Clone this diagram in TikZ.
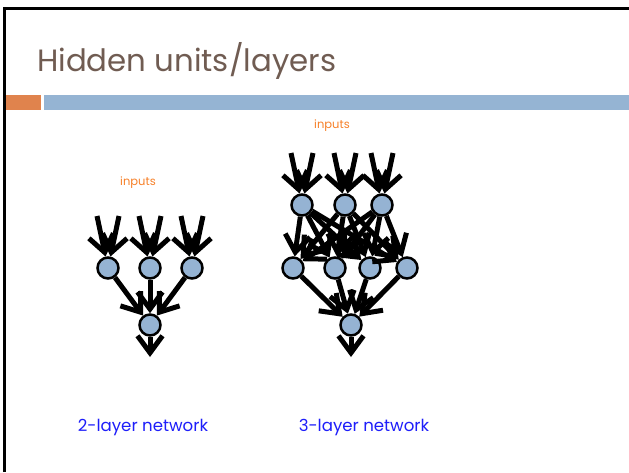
\documentclass[tikz,border=0pt]{standalone}
\usepackage{fontspec}
\setmainfont{Poppins}
\usetikzlibrary{arrows.meta,calc}
\definecolor{titlebrown}{RGB}{112,92,82}
\definecolor{barorange}{RGB}{224,131,77}
\definecolor{barblue}{RGB}{149,180,211}
\definecolor{unitblue}{RGB}{149,179,211}
\definecolor{inorange}{RGB}{247,128,40}
\definecolor{capblue}{RGB}{30,30,250}
\tikzset{
  unit/.style={circle, draw=black, line width=2.5pt, fill=unitblue, minimum size=21pt, inner sep=0pt},
  link/.style={line width=5pt, -{Straight Barb[length=17pt,width=25pt]}},
  inlabel/.style={text=inorange, font=\fontsize{11.5pt}{13pt}\selectfont},
  caption/.style={text=capblue, font=\fontsize{16.6pt}{19pt}\selectfont},
}
\begin{document}
\begin{tikzpicture}[x=1pt,y=-1pt]
\useasboundingbox (0,0) rectangle (629,472);
% slide frame and header bars
\fill[white] (0,0) rectangle (629,472);
\draw[line width=2.5pt] (4.5,472) -- (4.5,8.5) -- (629,8.5);
\fill[barorange] (5.5,95) rectangle (41,110);
\fill[barblue] (44,95) rectangle (629,110);
\node[anchor=base west, inner sep=0pt, text=titlebrown, font=\fontsize{30.8pt}{36pt}\selectfont] (title) at (37,71) {Hidden units/layers};

% ---- 2-layer network ----
\node[inlabel] (inA) at (138,183) {inputs};
\node[unit] (a1) at (108,268) {};
\node[unit] (a2) at (150,268) {};
\node[unit] (a3) at (192,268) {};
\node[unit] (ao) at (150,325) {};
\foreach \n in {a1,a2,a3}{
  \coordinate (\n L) at ($(\n)+(-11,-52)$);
  \coordinate (\n R) at ($(\n)+(11,-52)$);
  \draw[link] (\n L) -- (\n);
  \draw[link] (\n R) -- (\n);
  \draw[link] (\n) -- (ao);
}
\coordinate (aout) at (150,357);
\draw[link] (ao) -- (aout);
\node[caption] (capA) at (143,427) {2-layer network};

% ---- 3-layer network ----
\node[inlabel] (inB) at (332,126) {inputs};
\node[unit] (t1) at (302,205) {};
\node[unit] (t2) at (345,205) {};
\node[unit] (t3) at (382,205) {};
\node[unit] (h1) at (293,268) {};
\node[unit] (h2) at (335,268) {};
\node[unit] (h3) at (370,268) {};
\node[unit] (h4) at (407,268) {};
\node[unit] (ro) at (351,325) {};
\foreach \n in {t1,t2,t3}{
  \coordinate (\n L) at ($(\n)+(-11,-52)$);
  \coordinate (\n R) at ($(\n)+(11,-52)$);
  \draw[link] (\n L) -- (\n);
  \draw[link] (\n R) -- (\n);
  \foreach \m in {h1,h2,h3,h4}{
    \draw[link] (\n) -- (\m);
  }
}
\foreach \m in {h1,h2,h3,h4}{
  \draw[link] (\m) -- (ro);
}
\coordinate (rout) at (351,357);
\draw[link] (ro) -- (rout);
\node[caption] (capB) at (364,427) {3-layer network};
\end{tikzpicture}
\end{document}
